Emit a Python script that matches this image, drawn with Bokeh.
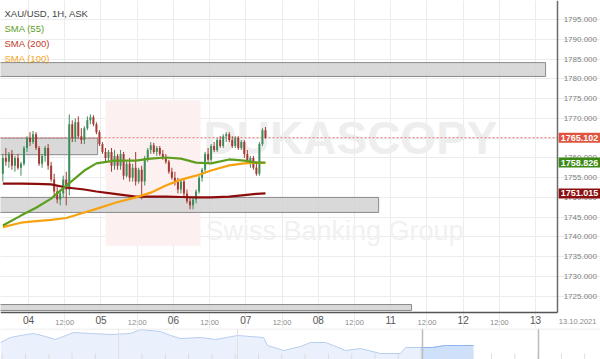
import numpy as np
from bokeh.plotting import figure
from bokeh.models import (Range1d, FixedTicker, Label, ColumnDataSource,
                          Span, PrintfTickFormatter, LinearAxis)
from bokeh.layouts import column
from bokeh.embed import file_html
from bokeh.resources import INLINE
from bokeh.core.properties import value

FONT = "Liberation Sans"

# ---------------- data ----------------
# hourly candles, x = trading hours since 04 Oct 00:00 (weekend removed)
candle_hours = list(range(-9, 79))
opens = [1756, 1760, 1759, 1761, 1758, 1760, 1757.5, 1758.5, 1762.5, 1765,
         1764, 1766, 1762.5, 1758.5, 1760.5, 1762.5, 1758, 1754.5, 1751.5, 1749.5,
         1751, 1754.5, 1752, 1768.5, 1765, 1769, 1765.5, 1764.5, 1767.5, 1769.5,
         1770.3, 1768.5, 1766.5, 1763.5, 1761.5, 1760, 1761.5, 1758, 1760.5, 1758,
         1761, 1755.5, 1758.5, 1755, 1757.5, 1754, 1757, 1754, 1760, 1762,
         1763.2, 1761.5, 1762.5, 1761, 1760, 1759, 1756.5, 1755, 1754, 1752,
         1754, 1751, 1749, 1748, 1749.5, 1751.5, 1755, 1757, 1761, 1759.5,
         1763, 1762, 1764.5, 1763, 1765.5, 1766, 1764.5, 1763, 1765, 1762.5,
         1764, 1761, 1759, 1760, 1757.5, 1756, 1763.5, 1767]
highs = [1761, 1762.5, 1761.5, 1762, 1760.5, 1761, 1759, 1763, 1765.5, 1766.5,
         1766.8, 1766.5, 1763, 1761, 1763, 1763.5, 1759, 1756, 1753, 1752,
         1755.5, 1756.5, 1771, 1769.5, 1770, 1770.5, 1767.5, 1768, 1770.5, 1771,
         1770.8, 1769, 1767, 1764, 1762.5, 1762, 1762.5, 1762, 1761, 1762,
         1761.5, 1759, 1760, 1758.5, 1761.5, 1757.5, 1758, 1760.5, 1762.5, 1764,
         1763.8, 1763, 1763, 1762, 1761, 1759.5, 1757.5, 1756.5, 1755, 1754.5,
         1754.5, 1752, 1750, 1750, 1752, 1755.5, 1757.5, 1761.5, 1762.5, 1763.5,
         1764, 1765, 1765.5, 1766, 1766.5, 1766.5, 1765.5, 1765.5, 1765.5, 1764.5,
         1764.5, 1762, 1760.5, 1760.5, 1759, 1764, 1767.5, 1767.8]
lows = [1754, 1758, 1757.5, 1757, 1756.5, 1757, 1755.5, 1758, 1761.5, 1763,
        1763.5, 1762, 1758, 1757.5, 1759, 1757, 1754, 1750.5, 1748.5, 1748,
        1750, 1748, 1750.5, 1764, 1764, 1765, 1763.5, 1763.5, 1767, 1768.5,
        1768, 1766, 1763, 1761, 1759, 1759, 1756.5, 1757, 1757, 1757,
        1754.5, 1755, 1754, 1754, 1753, 1753.5, 1749.5, 1753, 1759, 1761,
        1761, 1760.5, 1760.5, 1759.5, 1758.5, 1756, 1754.5, 1753, 1751, 1751,
        1750, 1748.5, 1747, 1747, 1748.5, 1751, 1754, 1756, 1758.5, 1759,
        1761.5, 1761.5, 1762.5, 1762.5, 1764, 1764, 1762.5, 1762.5, 1762, 1762,
        1760, 1758.5, 1757.5, 1757, 1755.5, 1755.5, 1763, 1764.8]
closes = [1760, 1759, 1761, 1758, 1760, 1757.5, 1758.5, 1762.5, 1765, 1764,
          1766, 1762.5, 1758.5, 1760.5, 1762.5, 1758, 1754.5, 1751.5, 1749.5, 1751,
          1754.5, 1752, 1768.5, 1765, 1769, 1765.5, 1764.5, 1767.5, 1769.5, 1770.3,
          1768.5, 1766.5, 1763.5, 1761.5, 1760, 1761.5, 1758, 1760.5, 1758, 1761,
          1755.5, 1758.5, 1755, 1757.5, 1754, 1757, 1754, 1760, 1762, 1763.2,
          1761.5, 1762.5, 1761, 1760, 1759, 1756.5, 1755, 1754, 1752, 1754,
          1751, 1749, 1748, 1749.5, 1751.5, 1755, 1757, 1761, 1759.5, 1763,
          1762, 1764.5, 1763, 1765.5, 1766, 1764.5, 1763, 1765, 1762.5, 1764,
          1761, 1759, 1760, 1757.5, 1756, 1763.5, 1767, 1765.102]

sma_hours = [-8.5, -2.5, 2.5, 7.5, 12.5, 18.5, 22.5, 28.5, 35.5, 40.5,
             45.5, 50.5, 55.5, 60.5, 66.5, 71.5, 75.5, 78.5]
sma55 = [1742.9, 1745.4, 1747.4, 1749.7, 1753.0, 1756.8, 1758.6, 1759.3, 1759.3, 1759.8,
         1760.1, 1759.8, 1758.8, 1758.6, 1759.6, 1759.3, 1758.8, 1758.826]
sma200 = [1753.5, 1753.5, 1753.4, 1753.3, 1752.5, 1752.0, 1751.5, 1750.9, 1750.2, 1750.2,
          1750.2, 1750.1, 1750.0, 1750.0, 1750.2, 1750.6, 1750.9, 1751.015]
sma100 = [1742.5, 1743.6, 1744.0, 1744.3, 1744.8, 1746.2, 1747.1, 1748.6, 1750.0, 1751.2,
          1753.0, 1754.5, 1755.5, 1756.8, 1758.1, 1758.6, 1758.8, 1758.7]

last_price = 1765.102
sma55_last = 1758.826
sma200_last = 1751.015

zone_bottom = [1780.6, 1760.8, 1746.2, 1721.4]
zone_top = [1784.1, 1765.0, 1750.0, 1722.9]
zone_end = [171.3, 22.9, 116.0, 126.9]

day_ticks = [0, 24, 48, 72, 96, 120, 144, 168]
day_labels = ["04", "05", "06", "07", "08", "11", "12", "13"]
noon_ticks = [12, 36, 60, 84, 108, 132, 156]
price_ticks = [1725, 1730, 1735, 1740, 1745, 1750, 1755, 1760, 1765, 1770,
               1775, 1780, 1785, 1790, 1795]
date_label = "13.10.2021"

nav_x = [0, 1, 2, 3.3, 4.5, 5.5, 7.3, 9, 11, 13, 14, 16, 17, 18, 20, 21.5, 23.7,
         26.3, 26.7, 28.3, 30, 31, 32.5, 33.3, 34.5, 36, 38, 40, 40.5, 42, 43.2,
         44.5, 46, 47.3]
nav_v = [17, 22, 24, 26, 23, 20, 27, 26, 25, 26, 30, 28, 24, 21, 22, 20, 24,
         22, 14, 9, 13, 17, 17, 14, 9, 11, 6, 6, 12, 12, 12, 14, 14, 14]

# ---------------- figure ----------------
# plot area spans the whole canvas; axes sit at fixed positions inside it
x_left, x_right = -9.28, 189.5
y_bot, y_top = 1716.84, 1799.81
x_axis_at = 175.3      # right axis position (hours)
y_axis_at = 1720.88    # bottom axis position (price)

p = figure(frame_width=600, frame_height=328,
           x_range=Range1d(x_left, x_right), y_range=Range1d(y_bot, y_top),
           output_backend="svg", toolbar_location=None,
           min_border=0, background_fill_color="white", border_fill_color="white",
           x_axis_type=None, y_axis_type=None)
p.outline_line_color = None

# right price axis
yax = LinearAxis(fixed_location=x_axis_at, bounds=(y_axis_at, y_top),
                 ticker=FixedTicker(ticks=price_ticks),
                 formatter=PrintfTickFormatter(format="%.3f"))
yax.major_label_text_font = FONT
yax.major_label_text_font_size = "8px"
yax.major_label_text_color = "#808080"
yax.major_label_standoff = 6
yax.major_tick_out = 0
yax.major_tick_in = 0
yax.minor_tick_out = 0
yax.minor_tick_in = 0
yax.axis_line_color = "#6b6b6b"
yax.axis_line_width = 1.5
p.add_layout(yax, "right")

# bottom day axis
xax = LinearAxis(fixed_location=y_axis_at, bounds=(x_left, x_axis_at),
                 ticker=FixedTicker(ticks=day_ticks))
xax.major_label_overrides = {t: l for t, l in zip(day_ticks, day_labels)}
xax.major_label_text_font = FONT
xax.major_label_text_font_size = "10px"
xax.major_label_text_color = "#555555"
xax.major_label_standoff = 3
xax.major_tick_out = 0
xax.major_tick_in = 0
xax.minor_tick_out = 0
xax.minor_tick_in = 0
xax.axis_line_color = "#555555"
xax.axis_line_width = 1.5
p.add_layout(xax, "below")

# bottom noon axis (same line, smaller labels)
nax = LinearAxis(fixed_location=y_axis_at, ticker=FixedTicker(ticks=noon_ticks))
nax.major_label_overrides = {t: "12:00" for t in noon_ticks}
nax.major_label_text_font = FONT
nax.major_label_text_font_size = "7.5px"
nax.major_label_text_color = "#8a8a8a"
nax.major_label_standoff = 5
nax.major_tick_out = 0
nax.major_tick_in = 0
nax.minor_tick_out = 0
nax.minor_tick_in = 0
nax.axis_line_color = None
p.add_layout(nax, "below")

# grid, bounded to the plot area
from bokeh.models import Grid
p.add_layout(Grid(dimension=0, ticker=FixedTicker(ticks=sorted(day_ticks + noon_ticks)),
                  bounds=(y_axis_at, y_top), grid_line_color="#ececec"))
p.add_layout(Grid(dimension=1, ticker=FixedTicker(ticks=price_ticks),
                  bounds=(x_left, x_axis_at), grid_line_color="#ececec"))

# watermark
p.quad(left=[25.5], right=[57.0], bottom=[1737.8], top=[1774.5],
       fill_color="#fdf0f0", line_color=None)
p.text(x=[58.0], y=[1765.0], text=["DUKASCOPY"], text_font=value(FONT),
       text_font_size="46px", text_font_style="bold", text_color="#eeeeee",
       text_baseline="middle", text_align="left")
p.text(x=[58.6], y=[1741.5], text=["Swiss Banking Group"], text_font=value(FONT),
       text_font_size="27px", text_color="#f1f1f1",
       text_baseline="middle", text_align="left")

# zones
p.quad(left=[x_left - 5] * len(zone_end), right=zone_end, bottom=zone_bottom,
       top=zone_top, fill_color="#d2d2d2", fill_alpha=0.85,
       line_color="#8a8a8a", line_width=1)

# last price dotted line
p.segment(x0=[x_left], y0=[last_price], x1=[x_axis_at], y1=[last_price],
          line_color="#e57373", line_dash="2 2", line_width=1)

# candles
GREEN, RED = "#3f8d5c", "#a63a33"
src = ColumnDataSource(dict(
    x=[h + 0.5 for h in candle_hours], o=opens, h=highs, l=lows, c=closes,
    top=[max(o, c) for o, c in zip(opens, closes)],
    bottom=[min(o, c) for o, c in zip(opens, closes)],
    color=[GREEN if c >= o else RED for o, c in zip(opens, closes)]))
p.segment(x0="x", y0="l", x1="x", y1="h", line_color="color", line_width=1, source=src)
p.vbar(x="x", width=0.66, top="top", bottom="bottom", fill_color="color",
       line_color=None, source=src)

# SMAs
p.line(sma_hours, sma200, line_color="#8c0c0c", line_width=2.2)
p.line(sma_hours, sma100, line_color="#f7a30f", line_width=2.2)
p.line(sma_hours, sma55, line_color="#5d9e1f", line_width=2.2)

# legend texts
legend_items = [("XAU/USD, 1H, ASK", "#444444", -13),
                ("SMA (55)", "#5d9e1f", -28),
                ("SMA (200)", "#c0392b", -43),
                ("SMA (100)", "#f5a623", -58)]
for txt, col, off in legend_items:
    p.add_layout(Label(x=x_left, y=y_top, x_offset=4, y_offset=off, text=txt,
                       text_font=FONT, text_font_size="9.5px", text_color=col,
                       text_baseline="middle", text_align="left"))

# date in the bottom-right corner
p.add_layout(Label(x=x_axis_at, y=y_axis_at, x_offset=20, y_offset=-9, text=date_label,
                   text_font=FONT, text_font_size="7.5px", text_color="#8a8a8a",
                   text_align="center", text_baseline="middle"))

# price tags
for val, bg in [(last_price, "#e0533f"), (sma55_last, "#3c8a12"), (sma200_last, "#8c0f0f")]:
    p.add_layout(Label(x=x_axis_at, y=val, x_offset=1, text=f"{val:.3f}",
                       text_font=FONT, text_font_size="9px", text_font_style="bold",
                       text_color="white", text_align="left", text_baseline="middle",
                       background_fill_color=bg, padding=2))

# ---------------- navigator ----------------
nav = figure(width=600, height=31, x_range=Range1d(0, 60), y_range=Range1d(0, 31),
             toolbar_location=None, output_backend="svg", min_border=0,
             background_fill_color="white", border_fill_color="white")
nav.axis.visible = False
nav.grid.visible = False
nav.outline_line_color = None
nav.varea(x=nav_x, y1=[0] * len(nav_x), y2=nav_v, fill_color="#eaf1fc")
nav.line(nav_x, nav_v, line_color="#b7cdf0", line_width=1)
hi = [i for i, xv in enumerate(nav_x) if xv >= 42]
nav.varea(x=[nav_x[i] for i in hi], y1=[0] * len(hi), y2=[nav_v[i] for i in hi],
          fill_color="#cfe0fa")
nav.line([nav_x[i] for i in hi], [nav_v[i] for i in hi], line_color="#8fb3ee", line_width=1)
tick_pos = list(np.arange(0.17, 60, 2.33))
nav.segment(x0=tick_pos, y0=[0] * len(tick_pos), x1=tick_pos, y1=[6] * len(tick_pos),
            line_color="#dddddd", line_width=1)
nav.segment(x0=[11.8, 23.7], y0=[0, 0], x1=[11.8, 23.7], y1=[31, 31],
            line_color="#e2e2e2", line_width=1)
nav.segment(x0=[42.2, 53.8], y0=[0, 0], x1=[42.2, 53.8], y1=[31, 31],
            line_color="#bdbdbd", line_width=1.5)
nav.add_layout(Span(location=30.5, dimension="width", line_color="#e8e8e8", line_width=1))

layout = column(p, nav, spacing=0)
open("out.html", "w").write(file_html(layout, INLINE))
